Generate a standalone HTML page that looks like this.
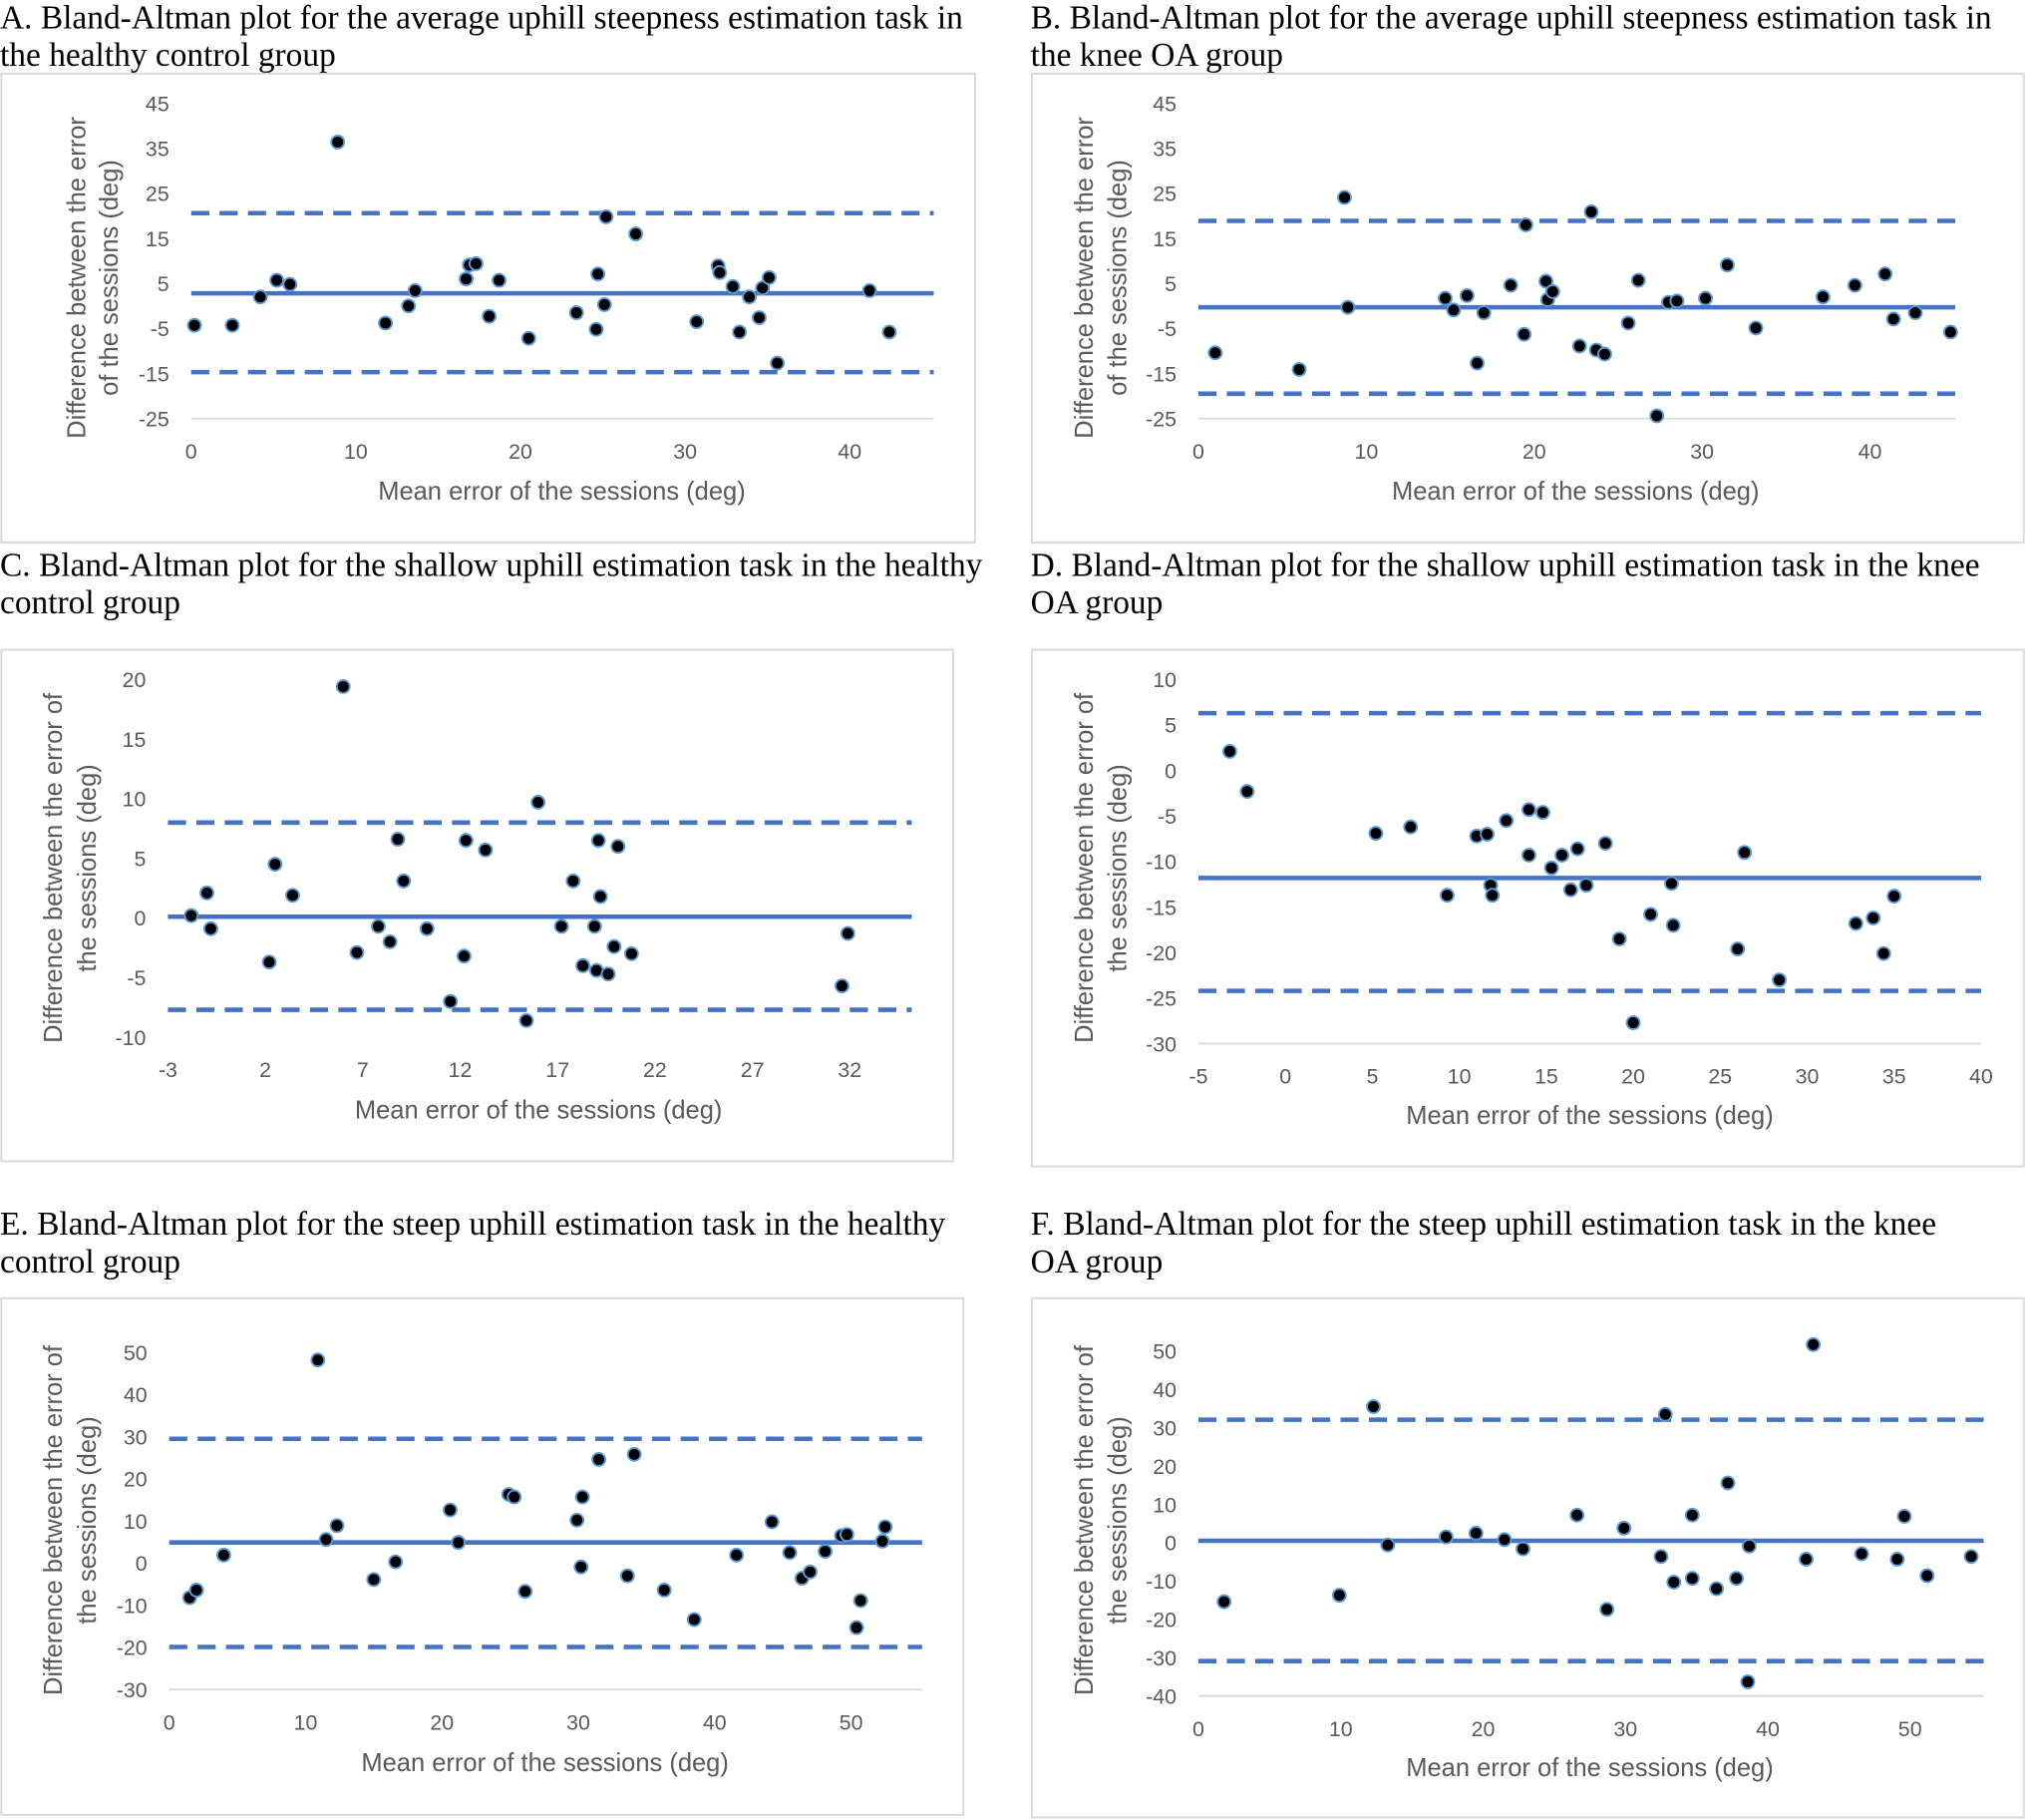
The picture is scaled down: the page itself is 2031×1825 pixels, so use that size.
<!DOCTYPE html>
<html><head><meta charset="utf-8"><style>
html,body{margin:0;padding:0;background:#fff;}
svg{display:block;}
.t{font-family:"Liberation Serif",serif;font-size:25.8px;fill:#000;}
.tk{font-family:"Liberation Sans",sans-serif;font-size:16.5px;fill:#595959;}
.at{font-family:"Liberation Sans",sans-serif;font-size:19.7px;fill:#595959;}
</style></head><body>
<svg id="fig" width="2031" height="1825" viewBox="0 0 1568 1409" xmlns="http://www.w3.org/2000/svg"></svg>
<script>
// Panel A data
const aMean=[0.2,2.5,4.2,5.2,6.0,8.9,11.8,13.2,13.6,16.7,16.9,17.3,18.1,18.7,20.5,23.4,24.6,24.7,25.1,25.2,27.0,30.7,32.0,32.1,32.9,33.3,33.9,34.5,34.7,35.1,35.6,41.2,42.4];
const aDiff=[-4.3,-4.3,2.0,5.7,4.8,36.4,-3.8,0,3.4,6.0,9.1,9.4,-2.3,5.7,-7.2,-1.5,-5.2,7.1,0.3,19.8,16.0,-3.5,8.9,7.4,4.3,-5.8,2.0,-2.6,4.0,6.3,-12.7,3.4,-5.8];
const aLines=[2.8,20.6,-14.7];
// Panel B data
const bMean=[1.0,6.0,8.7,8.9,14.7,15.2,16.0,16.6,17.0,18.6,19.5,19.4,20.7,20.8,21.1,22.7,23.4,23.7,24.2,25.6,26.2,27.3,28.0,28.5,30.2,31.5,33.2,37.2,39.1,40.9,41.4,42.7,44.8];
const bDiff=[-10.4,-14.1,24.1,-0.3,1.7,-0.9,2.3,-12.7,-1.5,4.6,18.0,-6.3,5.5,1.4,3.2,-8.9,20.9,-9.8,-10.7,-3.8,5.7,-24.4,0.8,1.1,1.7,9.1,-4.9,2.0,4.6,7.1,-2.9,-1.5,-5.8];
const bLines=[-0.3,18.9,-19.5];
// Panel C data
const cMean=[-1.8,-1.0,-0.8,2.2,2.5,3.4,6.0,6.7,7.8,8.4,8.8,9.1,10.3,11.5,12.2,12.3,13.3,15.4,16.0,17.2,17.8,18.3,18.9,19.0,19.1,19.2,19.6,19.9,20.1,20.8,31.6,31.9];
const cDiff=[0.2,2.1,-0.9,-3.7,4.5,1.9,19.4,-2.9,-0.7,-2.0,6.6,3.1,-0.9,-7.0,-3.2,6.5,5.7,-8.6,9.7,-0.7,3.1,-4.0,-0.7,-4.4,6.5,1.8,-4.7,-2.4,6.0,-3.0,-5.7,-1.3];
const cLines=[0.1,8.0,-7.7];
// Panel D data
const dMean=[-3.2,-2.2,5.2,7.2,9.3,11.0,11.6,11.8,11.9,12.7,14.0,14.0,14.8,15.3,15.9,16.4,16.8,17.3,18.4,19.2,20.0,21.0,22.2,22.3,26.0,26.4,28.4,32.8,33.8,34.4,35.0];
const dDiff=[2.1,-2.3,-6.9,-6.2,-13.7,-7.2,-7.0,-12.6,-13.7,-5.5,-4.3,-9.3,-4.6,-10.7,-9.3,-13.1,-8.6,-12.6,-8.0,-18.5,-27.7,-15.8,-12.4,-17.0,-19.6,-9.0,-23.0,-16.8,-16.2,-20.1,-13.8];
const dLines=[-11.8,6.3,-24.2];
// Panel E data
const eMean=[1.5,2.0,4.0,10.9,11.5,12.3,15.0,16.6,20.6,21.2,24.9,25.3,26.1,29.9,30.2,30.3,31.5,33.6,34.1,36.3,38.5,41.6,44.2,45.5,46.4,47.0,48.1,49.3,49.7,50.4,50.7,52.3,52.5];
const eDiff=[-8.2,-6.4,1.9,48.2,5.6,8.9,-3.9,0.3,12.6,4.9,16.3,15.7,-6.7,10.2,-0.9,15.7,24.6,-3.0,25.8,-6.4,-13.4,1.9,9.8,2.5,-3.6,-2.1,2.8,6.5,6.8,-15.3,-8.9,5.2,8.6];
const eLines=[4.9,29.5,-19.9];
// Panel F data
const fMean=[1.8,9.9,12.3,13.3,17.4,19.5,21.5,22.8,26.6,28.7,29.9,32.5,32.8,33.4,34.7,34.7,36.4,37.2,37.8,38.7,38.6,42.7,43.2,46.6,49.1,49.6,51.2,54.3];
const fDiff=[-15.4,-13.7,35.5,-0.6,1.5,2.5,0.8,-1.6,7.2,-17.4,3.8,-3.6,33.5,-10.3,-9.3,7.2,-12.0,15.6,-9.3,-0.9,-36.3,-4.3,51.7,-2.9,-4.3,6.9,-8.6,-3.6];
const fLines=[0.5,32.1,-30.9];
// Tick labels
const xTicksA=[0,10,20,30,40], yTicksA=[45,35,25,15,5,-5,-15,-25];
const xTicksC=[-3,2,7,12,17,22,27,32], yTicksC=[20,15,10,5,0,-5,-10];
const xTicksD=[-5,0,5,10,15,20,25,30,35,40], yTicksD=[10,5,0,-5,-10,-15,-20,-25,-30];
const xTicksE=[0,10,20,30,40,50], yTicksE=[50,40,30,20,10,0,-10,-20,-30];
const yTicksF=[50,40,30,20,10,0,-10,-20,-30,-40];

const NS="http://www.w3.org/2000/svg";
const fig=document.getElementById('fig');
function mk(tag,attrs,parent,text){const e=document.createElementNS(NS,tag);for(const k in attrs)e.setAttribute(k,attrs[k]);if(text!==undefined)e.textContent=text;parent.appendChild(e);return e;}

const panels=[
 {id:'a',title:['A. Bland-Altman plot for the average uphill steepness estimation task in','the healthy control group'],tx:0,ty:22,box:[1,57,754,363],
  x0v:0,x0p:148,x1v:40,x1p:658,xEnd:723,y0v:45,y0p:80,y1v:-25,y1p:324,xt:xTicksA,yt:yTicksA,mean:aMean,diff:aDiff,lines:aLines,
  ytx:[60,85],yty:215,xtx:435,xty:387,yTitle:['Difference between the error','of the sessions (deg)']},
 {id:'b',title:['B. Bland-Altman plot for the average uphill steepness estimation task in','the knee OA group'],tx:798,ty:22,box:[799,57,768,363],
  x0v:0,x0p:928,x1v:40,x1p:1448,xEnd:1514,y0v:45,y0p:80,y1v:-25,y1p:324,xt:xTicksA,yt:yTicksA,mean:bMean,diff:bDiff,lines:bLines,
  ytx:[840,866],yty:215,xtx:1220,xty:387,yTitle:['Difference between the error','of the sessions (deg)']},
 {id:'c',title:['C. Bland-Altman plot for the shallow uphill estimation task in the healthy','control group'],tx:0,ty:446,box:[1,503,737,396],
  x0v:-3,x0p:130,x1v:32,x1p:658,xEnd:706,y0v:20,y0p:526,y1v:-10,y1p:803,xt:xTicksC,yt:yTicksC,mean:cMean,diff:cDiff,lines:cLines,
  ytx:[42,68],yty:672,xtx:417,xty:866,yTitle:['Difference between the error of','the sessions (deg)'],noAxis:true},
 {id:'d',title:['D. Bland-Altman plot for the shallow uphill estimation task in the knee','OA group'],tx:798,ty:446,box:[799,503,768,400],
  x0v:-5,x0p:928,x1v:40,x1p:1534,xEnd:1534,y0v:10,y0p:526,y1v:-30,y1p:808,xt:xTicksD,yt:yTicksD,mean:dMean,diff:dDiff,lines:dLines,
  ytx:[840,866],yty:672,xtx:1231,xty:870,yTitle:['Difference between the error of','the sessions (deg)']},
 {id:'e',title:['E. Bland-Altman plot for the steep uphill estimation task in the healthy','control group'],tx:0,ty:956,box:[1,1005,745,400],
  x0v:0,x0p:131,x1v:50,x1p:659,xEnd:714,y0v:50,y0p:1047,y1v:-30,y1p:1308,xt:xTicksE,yt:yTicksE,mean:eMean,diff:eDiff,lines:eLines,
  ytx:[42,68],yty:1177,xtx:422,xty:1371,yTitle:['Difference between the error of','the sessions (deg)']},
 {id:'f',title:['F. Bland-Altman plot for the steep uphill estimation task in the knee','OA group'],tx:798,ty:956,box:[799,1005,768,402],
  x0v:0,x0p:928,x1v:50,x1p:1479,xEnd:1536,y0v:50,y0p:1046,y1v:-40,y1p:1313,xt:xTicksE,yt:yTicksF,mean:fMean,diff:fDiff,lines:fLines,
  ytx:[840,866],yty:1177,xtx:1231,xty:1375,yTitle:['Difference between the error of','the sessions (deg)']}
];

panels.forEach(p=>{
  const g=mk('g',{},fig);
  
  
  const xs=v=>p.x0p+(v-p.x0v)*(p.x1p-p.x0p)/(p.x1v-p.x0v);
  const ys=v=>p.y0p+(v-p.y0v)*(p.y1p-p.y0p)/(p.y1v-p.y0v);
  p.title.forEach((l,i)=>{
    const t=mk('text',{x:p.tx,y:p.ty+i*29,class:'t'},g,l);
    
    
  });
  const fr=mk('rect',{x:p.box[0],y:p.box[1],width:p.box[2],height:p.box[3],fill:'none',stroke:'#d9d9d9','stroke-width':1.5},g);
  
  
  const yb=p.y1p;
  if(!p.noAxis){
    const ax=mk('line',{x1:p.x0p,x2:p.xEnd,y1:yb,y2:yb,stroke:'#d9d9d9','stroke-width':1.5},g);
    
    
  }
  p.yt.forEach(v=>{
    const t=mk('text',{x:p.x0p-17,y:ys(v)+6,class:'tk','text-anchor':'end'},g,String(v));
    
    
  });
  p.xt.forEach(v=>{
    const t=mk('text',{x:xs(v),y:yb+31,class:'tk','text-anchor':'middle'},g,String(v));
    
    
  });
  const names=['mean-difference-line','upper-limit-line','lower-limit-line'];
  p.lines.forEach((v,i)=>{
    const a={x1:p.x0p,x2:p.xEnd,y1:ys(v),y2:ys(v),stroke:'#4472c4','stroke-width':3.5};
    if(i>0)a['stroke-dasharray']='14,8';
    const l=mk('line',a,g);
    
    
  });
  p.mean.forEach((m,i)=>{
    const c=mk('circle',{cx:xs(m),cy:ys(p.diff[i]),r:5,fill:'#000',stroke:'#5b9bd5','stroke-width':1.5},g);
    
    
  });
  const xt=mk('text',{x:p.xtx,y:p.xty,class:'at','text-anchor':'middle'},g,'Mean error of the sessions (deg)');
  
  
  p.yTitle.forEach((l,i)=>{
    const t=mk('text',{x:0,y:0,class:'at','text-anchor':'middle',transform:'translate('+(p.ytx[i]+6)+','+p.yty+') rotate(-90)'},g,l);
    
    
  });
});
</script>
</body></html>
